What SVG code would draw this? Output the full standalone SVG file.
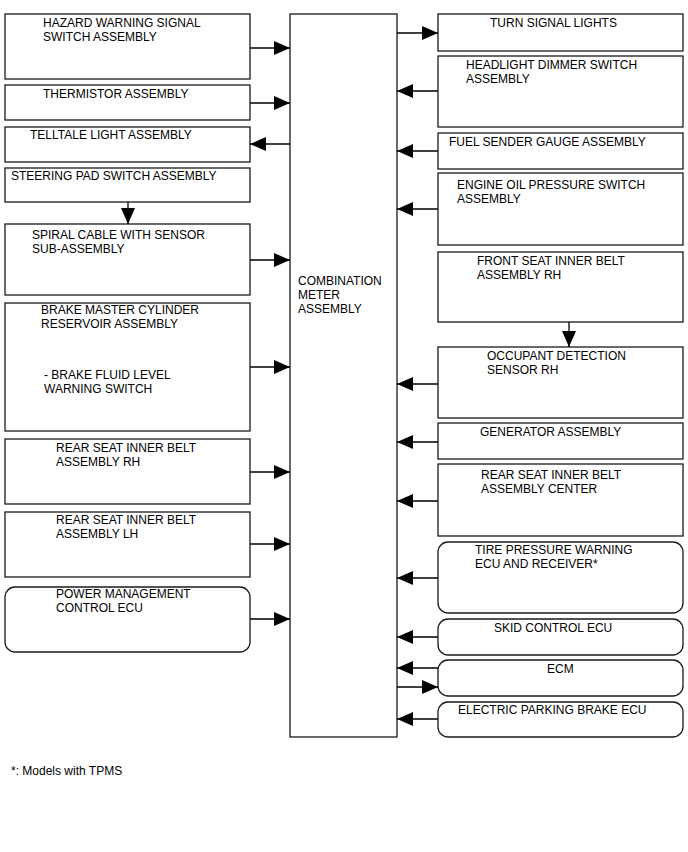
<svg xmlns="http://www.w3.org/2000/svg" width="688" height="852" viewBox="0 0 688 852">
<defs>
<style>
.b{fill:#fff;stroke:#1a1a1a;stroke-width:1.3}
.t{font-family:"Liberation Sans",Arial,sans-serif;font-size:12px;fill:#000}
.c{stroke:#000;stroke-width:1.3;fill:none;marker-end:url(#ah)}
</style>
<marker id="ah" viewBox="0 0 16 14" refX="16" refY="7" markerWidth="16" markerHeight="14" markerUnits="userSpaceOnUse" orient="auto">
<path d="M0,0 L16,7 L0,14 Z" fill="#000"/>
</marker>
</defs>
<rect width="688" height="852" fill="#fff"/>
<g id="hazard"><rect class="b" x="5" y="14" width="245" height="65"/><text class="t" x="43" y="27">HAZARD WARNING SIGNAL</text><text class="t" x="43" y="41">SWITCH ASSEMBLY</text></g>
<g id="thermistor"><rect class="b" x="5" y="85" width="245" height="35"/><text class="t" x="43" y="98">THERMISTOR ASSEMBLY</text></g>
<g id="telltale"><rect class="b" x="5" y="127" width="245" height="35"/><text class="t" x="30" y="139">TELLTALE LIGHT ASSEMBLY</text></g>
<g id="steering"><rect class="b" x="5" y="168" width="245" height="34"/><text class="t" x="11" y="180">STEERING PAD SWITCH ASSEMBLY</text></g>
<g id="spiral"><rect class="b" x="5" y="224" width="245" height="71"/><text class="t" x="32" y="239">SPIRAL CABLE WITH SENSOR</text><text class="t" x="32" y="253">SUB-ASSEMBLY</text></g>
<g id="brake"><rect class="b" x="5" y="303" width="245" height="128"/><text class="t" x="41" y="314">BRAKE MASTER CYLINDER</text><text class="t" x="41" y="328">RESERVOIR ASSEMBLY</text><text class="t" x="44" y="379">- BRAKE FLUID LEVEL</text><text class="t" x="44" y="393">WARNING SWITCH</text></g>
<g id="rear-rh"><rect class="b" x="5" y="439" width="245" height="65"/><text class="t" x="56" y="452">REAR SEAT INNER BELT</text><text class="t" x="56" y="466">ASSEMBLY RH</text></g>
<g id="rear-lh"><rect class="b" x="5" y="512" width="245" height="65"/><text class="t" x="56" y="524">REAR SEAT INNER BELT</text><text class="t" x="56" y="538">ASSEMBLY LH</text></g>
<g id="power"><rect class="b" x="5" y="587" width="245" height="65" rx="10"/><text class="t" x="56" y="598">POWER MANAGEMENT</text><text class="t" x="56" y="612">CONTROL ECU</text></g>
<g id="meter"><rect class="b" x="290" y="14" width="107" height="723"/><text class="t" x="298" y="285">COMBINATION</text><text class="t" x="298" y="299">METER</text><text class="t" x="298" y="313">ASSEMBLY</text></g>
<g id="turn"><rect class="b" x="438" y="14" width="245" height="37"/><text class="t" x="490" y="27">TURN SIGNAL LIGHTS</text></g>
<g id="headlight"><rect class="b" x="438" y="56" width="245" height="71"/><text class="t" x="466" y="69">HEADLIGHT DIMMER SWITCH</text><text class="t" x="466" y="83">ASSEMBLY</text></g>
<g id="fuel"><rect class="b" x="438" y="133" width="245" height="36"/><text class="t" x="449" y="146">FUEL SENDER GAUGE ASSEMBLY</text></g>
<g id="oil"><rect class="b" x="438" y="173" width="245" height="72"/><text class="t" x="457" y="189">ENGINE OIL PRESSURE SWITCH</text><text class="t" x="457" y="203">ASSEMBLY</text></g>
<g id="front-seat"><rect class="b" x="438" y="252" width="245" height="70"/><text class="t" x="477" y="265">FRONT SEAT INNER BELT</text><text class="t" x="477" y="279">ASSEMBLY RH</text></g>
<g id="occupant"><rect class="b" x="438" y="347" width="245" height="71"/><text class="t" x="487" y="360">OCCUPANT DETECTION</text><text class="t" x="487" y="374">SENSOR RH</text></g>
<g id="generator"><rect class="b" x="438" y="423" width="245" height="36"/><text class="t" x="480" y="436">GENERATOR ASSEMBLY</text></g>
<g id="rear-center"><rect class="b" x="438" y="464" width="245" height="72"/><text class="t" x="481" y="479">REAR SEAT INNER BELT</text><text class="t" x="481" y="493">ASSEMBLY CENTER</text></g>
<g id="tire"><rect class="b" x="438" y="542" width="245" height="71" rx="10"/><text class="t" x="475" y="554">TIRE PRESSURE WARNING</text><text class="t" x="475" y="568">ECU AND RECEIVER*</text></g>
<g id="skid"><rect class="b" x="438" y="619" width="245" height="36" rx="10"/><text class="t" x="494" y="632">SKID CONTROL ECU</text></g>
<g id="ecm"><rect class="b" x="438" y="660" width="245" height="36" rx="10"/><text class="t" x="547" y="673">ECM</text></g>
<g id="epb"><rect class="b" x="438" y="702" width="245" height="35" rx="10"/><text class="t" x="458" y="714">ELECTRIC PARKING BRAKE ECU</text></g>
<g id="connectors">
<line class="c" x1="250" y1="48" x2="290" y2="48"/>
<line class="c" x1="250" y1="103" x2="290" y2="103"/>
<line class="c" x1="290" y1="144" x2="250" y2="144"/>
<line class="c" x1="128" y1="202" x2="128" y2="224"/>
<line class="c" x1="250" y1="260" x2="290" y2="260"/>
<line class="c" x1="250" y1="367" x2="290" y2="367"/>
<line class="c" x1="250" y1="472" x2="290" y2="472"/>
<line class="c" x1="250" y1="544" x2="290" y2="544"/>
<line class="c" x1="250" y1="619" x2="290" y2="619"/>
<line class="c" x1="397" y1="33" x2="438" y2="33"/>
<line class="c" x1="438" y1="91" x2="397" y2="91"/>
<line class="c" x1="438" y1="151" x2="397" y2="151"/>
<line class="c" x1="438" y1="209" x2="397" y2="209"/>
<line class="c" x1="569" y1="322" x2="569" y2="347"/>
<line class="c" x1="438" y1="384" x2="397" y2="384"/>
<line class="c" x1="438" y1="442" x2="397" y2="442"/>
<line class="c" x1="438" y1="501" x2="397" y2="501"/>
<line class="c" x1="438" y1="578" x2="397" y2="578"/>
<line class="c" x1="438" y1="637" x2="397" y2="637"/>
<line class="c" x1="438" y1="668" x2="397" y2="668"/>
<line class="c" x1="397" y1="687" x2="438" y2="687"/>
<line class="c" x1="438" y1="719" x2="397" y2="719"/>
</g>
<text class="t" x="11" y="775">*: Models with TPMS</text>
</svg>
